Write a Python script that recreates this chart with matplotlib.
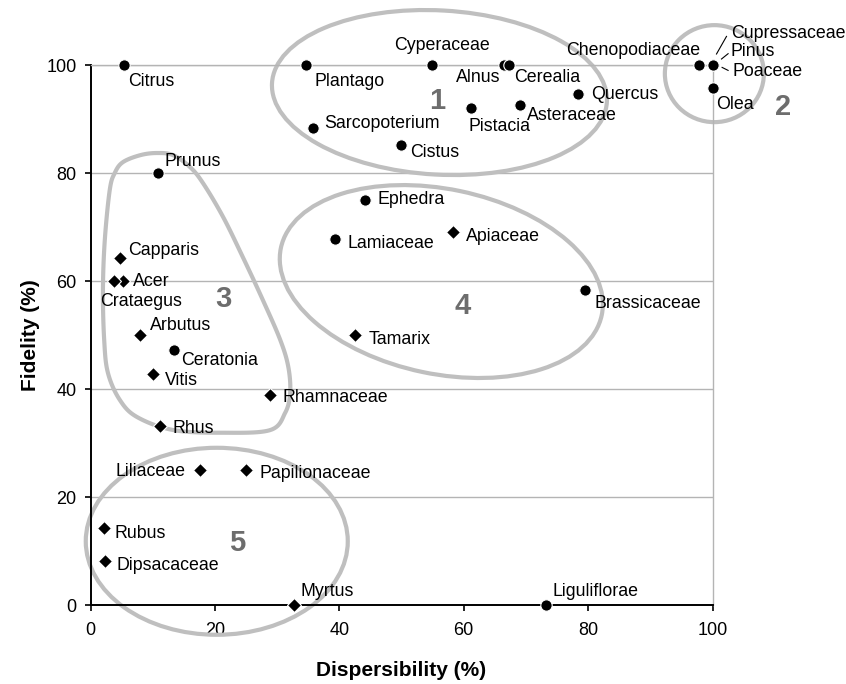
import numpy as np
import matplotlib
matplotlib.use("Agg")
import matplotlib.pyplot as plt
from matplotlib.patches import Ellipse, Polygon
from matplotlib.transforms import ScaledTranslation

plt.rcParams['font.family'] = ['Liberation Sans', 'DejaVu Sans']

# ---- data: pollen taxa, dispersibility (x, %) and fidelity (y, %) ----
taxa = ["Citrus", "Plantago", "Cyperaceae", "Alnus", "Cerealia", "Sarcopoterium",
        "Cistus", "Pistacia", "Asteraceae", "Quercus", "Chenopodiaceae",
        "Cupressaceae", "Pinus", "Poaceae", "Olea", "Prunus", "Capparis", "Acer",
        "Crataegus", "Arbutus", "Ceratonia", "Vitis", "Rhamnaceae", "Rhus",
        "Ephedra", "Lamiaceae", "Apiaceae", "Brassicaceae", "Tamarix",
        "Liliaceae", "Papilionaceae", "Rubus", "Dipsacaceae", "Myrtus", "Liguliflorae"]
dispersibility = [5.4, 34.6, 54.9, 66.5, 67.3, 35.8,
                  49.9, 61.1, 69.0, 78.3, 97.9,
                  100, 100, 100, 100, 10.9, 4.7, 5.3,
                  3.8, 8.0, 13.4, 10.0, 28.9, 11.2,
                  44.2, 39.3, 58.2, 79.5, 42.6,
                  17.6, 25.0, 2.1, 2.3, 32.7, 73.2]
fidelity = [100, 100, 100, 100, 100, 88.3,
            85.1, 92.1, 92.5, 94.6, 100,
            100, 100, 100, 95.8, 80, 64.2, 60,
            60, 50, 47.2, 42.7, 38.8, 33.2,
            75, 67.8, 69.1, 58.3, 50,
            25, 25, 14.2, 8.2, 0, 0]
# 'o' = circle, 'D' = diamond
marker_kind = ["o", "o", "o", "o", "o", "o",
               "o", "o", "o", "o", "o",
               "o", "o", "o", "o", "o", "D", "D",
               "D", "D", "o", "D", "D", "D",
               "o", "o", "D", "o", "D",
               "D", "D", "D", "D", "D", "o"]

# label placement: offset in pixels from the marker and horizontal alignment
label_offsets = {
    "Citrus": (4, -17, "left"), "Plantago": (9, -16, "left"),
    "Cyperaceae": (10, 20, "center"), "Alnus": (-4, -12, "right"),
    "Cerealia": (5, -12, "left"), "Sarcopoterium": (11, 5, "left"),
    "Cistus": (9, -7.5, "left"), "Pistacia": (-2, -18.5, "left"),
    "Asteraceae": (7, -9.7, "left"), "Quercus": (13.5, 0, "left"),
    "Chenopodiaceae": (1, 14.6, "right"),
    "Cupressaceae": (18.5, 32, "left"), "Pinus": (18.5, 13.6, "left"),
    "Poaceae": (20, -6.4, "left"), "Olea": (4, -17.3, "left"),
    "Prunus": (6.7, 11.6, "left"), "Capparis": (8.3, 8.3, "left"),
    "Acer": (10, 0, "left"), "Crataegus": (26.5, -21, "center"),
    "Arbutus": (10, 9.3, "left"), "Ceratonia": (7.7, -10, "left"),
    "Vitis": (12.3, -6.4, "left"), "Rhamnaceae": (12.7, -2.3, "left"),
    "Rhus": (12.7, -2.6, "left"), "Ephedra": (11.6, 0, "left"),
    "Lamiaceae": (12.3, -5, "left"), "Apiaceae": (13.3, -5, "left"),
    "Brassicaceae": (9.3, -13.3, "left"), "Tamarix": (13.3, -5, "left"),
    "Liliaceae": (-14.3, -1.7, "right"), "Papilionaceae": (13.6, -4, "left"),
    "Rubus": (11, -5, "left"), "Dipsacaceae": (12, -4.3, "left"),
    "Myrtus": (6.3, 13.3, "left"), "Liguliflorae": (7, 14, "left"),
}
# short leader lines for the overlapping taxa at (100, 100), pixel offsets
leaders = {"Cupressaceae": ((4, 11), (14, 28.6)),
           "Pinus": ((9, 6), (15.6, 11.3)),
           "Poaceae": ((9.6, -2.4), (15.6, -5.4))}

# group ellipses: centre (data), semi-axes (pixels), rotation (deg)
group_ellipses = [((56.1, 94.9), 167.7, 82.1, -3.2),
                  ((100.3, 98.4), 49.5, 48.5, 0.0),
                  ((56.4, 59.9), 163.9, 92.4, -11.8),
                  ((20.3, 11.8), 131.0, 93.5, 0.0)]
# outline of group 3 (data units), smoothed into a closed curve
group3_outline = [(5.2, 82.0), (8.0, 83.3), (10.7, 83.7), (13.3, 83.3),
                  (16.0, 81.1), (18.1, 78.1), (21.3, 71.9), (24.5, 64.4),
                  (27.7, 56.5), (30.5, 49.1), (31.8, 44.1), (32.1, 39.3),
                  (31.3, 35.6), (28.9, 32.4), (21.3, 31.9), (13.3, 32.4),
                  (7.5, 34.8), (4.7, 38.0), (2.8, 43.0), (2.2, 49.1),
                  (2.0, 58.3), (2.3, 67.6), (3.1, 76.9), (3.9, 80.0)]
group_numbers = ["1", "2", "3", "4", "5"]
group_number_pos = [(55.7, 93.3), (111.4, 92.3), (21.4, 56.6), (59.9, 55.4), (23.6, 11.4)]

x_ticks = [0, 20, 40, 60, 80, 100]
y_ticks = [0, 20, 40, 60, 80, 100]

OUTLINE = "#bfbfbf"
NUMBER = "#6d6d6d"
GRID = "#b4b4b4"


def closed_catmull_rom(points, n=24):
    p = np.asarray(points, dtype=float)
    m = len(p)
    t = np.linspace(0, 1, n, endpoint=False)[:, None]
    segs = []
    for i in range(m):
        p0, p1, p2, p3 = p[i - 1], p[i], p[(i + 1) % m], p[(i + 2) % m]
        segs.append(0.5 * (2 * p1 + (-p0 + p2) * t
                           + (2 * p0 - 5 * p1 + 4 * p2 - p3) * t ** 2
                           + (-p0 + 3 * p1 - 3 * p2 + p3) * t ** 3))
    return np.vstack(segs)


fig = plt.figure(figsize=(8.46, 6.84), dpi=100)
ax = fig.add_axes([90.5 / 846, 1 - 605 / 684, 622 / 846, 540 / 684])
ax.set_xlim(0, 100)
ax.set_ylim(0, 100)

# gridlines and frame
ax.set_yticks(y_ticks)
ax.set_xticks(x_ticks)
ax.yaxis.grid(True, color=GRID, lw=1.0, zorder=0)
ax.set_axisbelow(True)
for side in ("top", "right"):
    ax.spines[side].set_color(GRID)
    ax.spines[side].set_linewidth(1.0)
for side in ("left", "bottom"):
    ax.spines[side].set_color("black")
    ax.spines[side].set_linewidth(1.4)
ax.tick_params(axis="both", direction="out", length=4, width=1.2,
               labelsize=13, color="black")
ax.tick_params(axis="y", pad=6)
ax.tick_params(axis="x", pad=8.5)

# group outlines
for (cx, cy), a, b, ang in group_ellipses:
    e = Ellipse((0, 0), 2 * a, 2 * b, angle=ang, fill=False, ec=OUTLINE, lw=3.0,
                transform=ScaledTranslation(cx, cy, ax.transData), clip_on=False,
                zorder=1)
    ax.add_patch(e)
curve = closed_catmull_rom(group3_outline)
ax.add_patch(Polygon(curve, closed=True, fill=False, ec=OUTLINE, lw=3.0,
                     clip_on=False, zorder=1))

for txt, (gx, gy) in zip(group_numbers, group_number_pos):
    ax.text(gx, gy, txt, color=NUMBER, fontsize=21, fontweight="bold",
            ha="center", va="center", clip_on=False, zorder=2)

# markers
for name, x, y, mk in zip(taxa, dispersibility, fidelity, marker_kind):
    ms = 8.2 if mk == "o" else 7.0
    ax.plot([x], [y], marker=mk, ms=ms, color="black", mec="white", mew=0.8,
            ls="none", clip_on=False, zorder=4)
    dx, dy, ha = label_offsets[name]
    ax.annotate(name, (x, y), xytext=(dx, dy), textcoords="offset pixels",
                ha=ha, va="center", fontsize=12.8, annotation_clip=False, zorder=5)
    if name in leaders:
        (x0, y0), (x1, y1) = leaders[name]
        ax.plot([x0, x1], [y0, y1], color="black", lw=0.8, clip_on=False,
                transform=ScaledTranslation(x, y, ax.transData), zorder=5)

fig.text(401 / 846, 1 - 670 / 684, "Dispersibility (%)", ha="center", va="center",
         fontsize=15, fontweight="bold")
fig.text(31 / 846, 1 - 335 / 684, "Fidelity (%)", ha="center", va="center",
         fontsize=15, fontweight="bold", rotation=90)

fig.savefig("out.png", dpi=100)
